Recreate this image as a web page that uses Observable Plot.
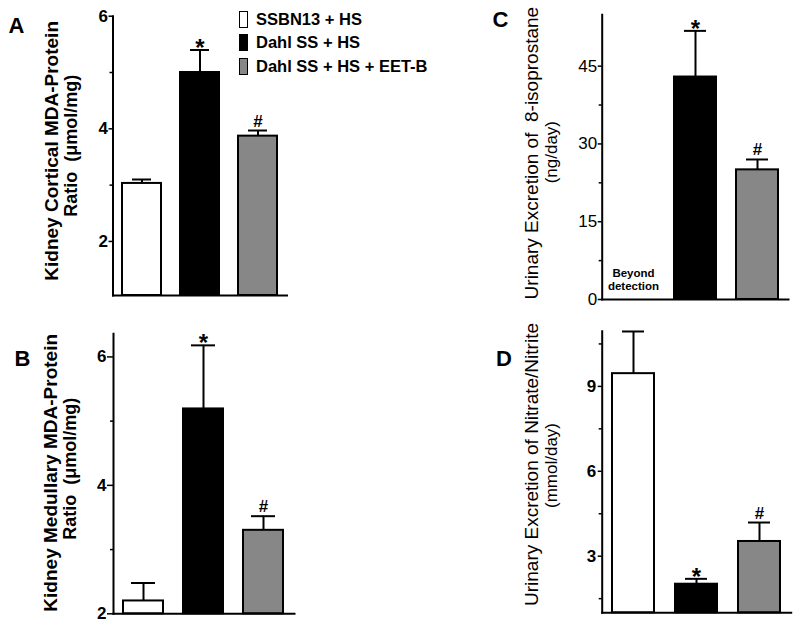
<!DOCTYPE html>
<html><head><meta charset="utf-8">
<script src="https://cdn.jsdelivr.net/npm/d3@7"></script>
<script src="https://cdn.jsdelivr.net/npm/@observablehq/plot@0.6"></script>
<style>
body{margin:0;background:#fff;}
#fig{position:relative;width:800px;height:628px;font-family:"Liberation Sans",Arial,sans-serif;overflow:hidden;background:#fff;}
.panel{position:absolute;}
.letter{position:absolute;font-size:22px;font-weight:bold;line-height:1;transform:translate(-50%,-50%);}
.lrow{position:absolute;left:239px;white-space:nowrap;display:flex;align-items:center;height:18px;font-size:16.5px;font-weight:bold;}
.sw{width:9px;height:17px;box-sizing:border-box;border:1.5px solid #000;margin-right:8px;}
</style></head>
<body><div id="fig"></div>
<script>
// ---- data ----
const groups = ["SSBN13 + HS", "Dahl SS + HS", "Dahl SS + HS + EET-B"];
const groupColors = ["#ffffff", "#000000", "#878787"];

const cortical = [3.03, 5.0, 3.87];
const corticalErr = [0.07, 0.40, 0.10];
const corticalSig = ["", "*", "#"];

const medullary = [2.2, 5.19, 3.30];
const medullaryErr = [0.28, 0.99, 0.22];
const medullarySig = ["", "*", "#"];

const isoprostane = [null, 42.9, 25.0];
const isoprostaneErr = [null, 8.9, 2.0];
const isoprostaneSig = ["", "*", "#"];
const isoNote = "Beyond\ndetection";

const nitrate = [9.45, 2.01, 3.52];
const nitrateErr = [1.49, 0.19, 0.67];
const nitrateSig = ["", "*", "#"];

const ticksA = [2, 4, 6], minorA = [3, 5];
const ticksB = [2, 4, 6], minorB = [3, 5];
const ticksC = [0, 15, 30, 45], minorC = [7.5, 22.5, 37.5];
const ticksD = [3, 6, 9], minorD = [1.5, 4.5, 7.5, 10.5];

const fig = document.getElementById("fig");
const FONT = "'Liberation Sans', Arial, sans-serif";

function panel(cfg) {
  const rows = groups.map((g, i) => ({group: g, value: cfg.values[i], err: cfg.errors[i], sig: cfg.sig[i]}))
    .filter(d => d.value != null);
  const y0 = cfg.yDomain[0];
  const marks = [
    Plot.barY(rows, {x: "group", y1: y0, y2: "value", fill: "group", stroke: "#000", strokeWidth: 2}),
    Plot.ruleX(rows, {x: "group", y1: "value", y2: d => d.value + d.err, stroke: "#000", strokeWidth: 2}),
    Plot.tickY(rows, {x: "group", y: d => d.value + d.err, stroke: "#000", strokeWidth: 2, insetLeft: cfg.capInset, insetRight: cfg.capInset}),
    Plot.text(rows.filter(d => d.sig === "*"), {x: "group", y: d => d.value + d.err, text: "sig", lineAnchor: "bottom", dy: 6, fontSize: 24, fontWeight: "bold", fontFamily: FONT}),
    Plot.text(rows.filter(d => d.sig === "#"), {x: "group", y: d => d.value + d.err, text: "sig", lineAnchor: "bottom", dy: -4, fontSize: 17, fontWeight: "bold", fontFamily: FONT}),
    Plot.frame({anchor: "left", stroke: "#000", strokeWidth: 2}),
    Plot.frame({anchor: "bottom", stroke: "#000", strokeWidth: 2}),
    Plot.axisY({ticks: cfg.ticks, tickSize: cfg.tickSize, tickPadding: cfg.tickPadding, tickFormat: d => String(d), label: null, strokeWidth: 1.5, fontSize: 17, fontWeight: cfg.tickWeight, fontFamily: FONT}),
    Plot.axisY({ticks: cfg.minor, tickSize: 3, tickFormat: () => "", label: null, strokeWidth: 1.5}),
    Plot.text([cfg.title1], {frameAnchor: "left", textAnchor: "middle", rotate: -90, dx: cfg.t1dx, dy: cfg.t1dy, fontSize: 19, fontWeight: cfg.titleWeight, lineAnchor: "middle", fontFamily: FONT}),
    Plot.text([cfg.title2], {frameAnchor: "left", textAnchor: "middle", rotate: -90, dx: cfg.t2dx, dy: cfg.t2dy, fontSize: cfg.t2size, fontWeight: cfg.titleWeight, lineAnchor: "middle", fontFamily: FONT})
  ];
  if (cfg.extra) marks.push(...cfg.extra);
  const chart = Plot.plot({
    width: cfg.width, height: cfg.height,
    marginLeft: cfg.m[0], marginRight: cfg.m[1], marginTop: cfg.m[2], marginBottom: cfg.m[3],
    x: {domain: groups, axis: null, paddingInner: 0.33, paddingOuter: 0.165},
    y: {domain: cfg.yDomain, axis: null},
    color: {domain: groups, range: groupColors},
    style: {fontFamily: FONT, fontSize: "16px", color: "#000", background: "transparent", overflow: "visible"},
    marks
  });
  chart.classList.add("panel");
  chart.style.left = cfg.left + "px";
  chart.style.top = cfg.top + "px";
  chart.style.position = "absolute";
  fig.appendChild(chart);
}

panel({values: cortical, errors: corticalErr, sig: corticalSig, yDomain: [1.04, 6], ticks: ticksA, minor: minorA,
  left: 0, top: 0, width: 400, height: 310, m: [112.5, 113.5, 15.7, 15], capInset: 10,
  tickSize: 4, tickPadding: 1, tickWeight: "bold", titleWeight: "bold",
  title1: "Kidney Cortical MDA-Protein", title2: "Ratio\u00a0 (\u03bcmol/mg)", t2size: 18,
  t1dx: -61.5, t1dy: -5, t2dx: -41.5, t2dy: -10});

panel({values: medullary, errors: medullaryErr, sig: medullarySig, yDomain: [2, 6.36], ticks: ticksB, minor: minorB,
  left: 0, top: 310, width: 400, height: 318, m: [113, 106, 23.3, 14.7], capInset: 8,
  tickSize: 6, tickPadding: 1, tickWeight: "bold", titleWeight: "bold",
  title1: "Kidney Medullary MDA-Protein", title2: "Ratio\u00a0 (\u03bcmol/mg)", t2size: 18,
  t1dx: -63, t1dy: -1, t2dx: -43, t2dy: -5});

panel({values: isoprostane, errors: isoprostaneErr, sig: isoprostaneSig, yDomain: [0, 54.9], ticks: ticksC, minor: minorC,
  left: 400, top: 0, width: 400, height: 310, m: [201.7, 12, 14.3, 11], capInset: 10,
  tickSize: 4, tickPadding: 1, tickWeight: "normal", titleWeight: "normal",
  title1: "Urinary Excretion of\u00a0 8-isoprostane", title2: "(ng/day)", t2size: 17,
  t1dx: -70.7, t1dy: -4, t2dx: -50.7, t2dy: -5,
  extra: [Plot.text([isoNote], {x: () => groups[0], frameAnchor: "bottom", lineAnchor: "bottom", dy: -10, fontSize: 11.5, fontWeight: "bold", lineHeight: 1.1, fontFamily: FONT})]});

panel({values: nitrate, errors: nitrateErr, sig: nitrateSig, yDomain: [1, 10.95], ticks: ticksD, minor: minorD,
  left: 400, top: 310, width: 400, height: 318, m: [201.7, 9.3, 20.7, 15.7], capInset: 10,
  tickSize: 4, tickPadding: 2, tickWeight: "bold", titleWeight: "normal",
  title1: "Urinary Excretion of Nitrate/Nitrite", title2: "(mmol/day)", t2size: 17,
  t1dx: -70.7, t1dy: -7.5, t2dx: -50.7, t2dy: -6.5});

// panel letters
[["A", 16.5, 25.5], ["B", 22.5, 358.5], ["C", 500.5, 19.5], ["D", 504, 359]].forEach(([t, x, y]) => {
  const el = document.createElement("div");
  el.className = "letter"; el.textContent = t;
  el.style.left = x + "px"; el.style.top = y + "px";
  fig.appendChild(el);
});

// legend
const legendY = [19, 42.5, 66];
groups.forEach((g, i) => {
  const row = document.createElement("div");
  row.className = "lrow";
  row.style.top = (legendY[i] - 9) + "px";
  const sw = document.createElement("span");
  sw.className = "sw"; sw.style.background = groupColors[i];
  const tx = document.createElement("span");
  tx.textContent = g;
  row.appendChild(sw); row.appendChild(tx);
  fig.appendChild(row);
});
</script>
</body></html>
